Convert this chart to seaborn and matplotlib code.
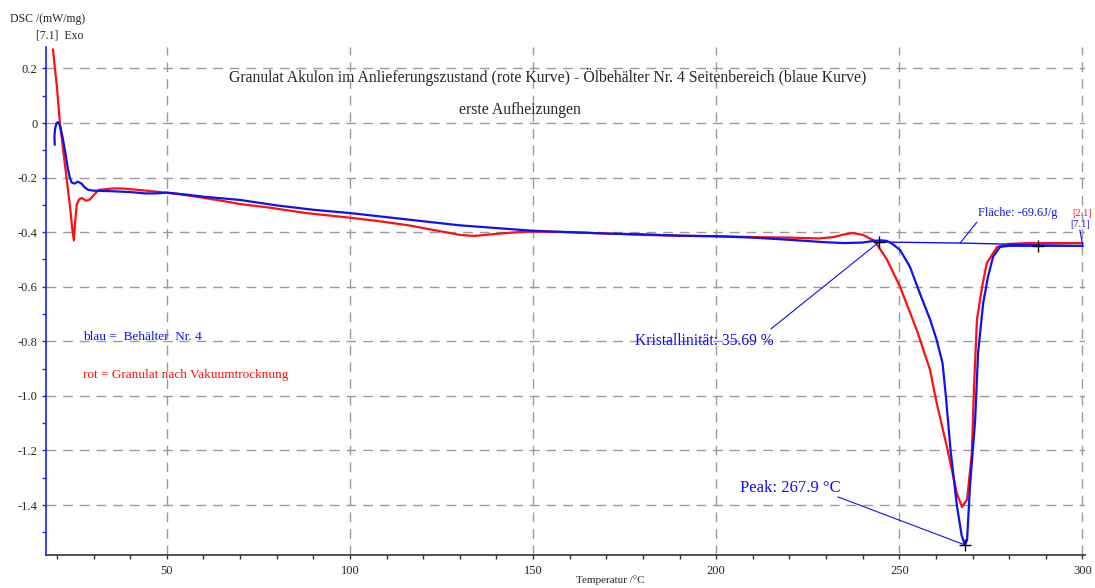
import matplotlib
matplotlib.use("Agg")
import matplotlib.pyplot as plt
from matplotlib.ticker import MultipleLocator, FixedLocator, FuncFormatter
import seaborn as sns
import pandas as pd

# DSC traces (temperature in °C, DSC signal in mW/mg)
red_temp = [18.9, 19.4, 20.0, 20.8, 21.7, 22.6, 23.5, 24.2, 24.6, 25.0, 25.4, 26.0,
            26.8, 28.0, 29.0, 30.3, 31.5, 35, 38, 42, 46, 50, 53, 58, 65, 70, 78, 88,
            95, 100, 108, 116, 122, 126, 130, 134, 137, 141, 146, 150, 160, 170, 180,
            190, 200, 210, 220, 228, 232, 235, 237.3, 240, 243.3, 246.6, 250.2, 254.8,
            258.4, 260.2, 263.0, 265.7, 267.1, 268.5, 269.8, 270.4, 271.2, 272.6,
            273.9, 276.7, 280, 285, 290, 295, 300.1]
red_dsc = [0.27, 0.205, 0.13, 0.0, -0.10, -0.20, -0.30, -0.39, -0.43, -0.355, -0.30,
           -0.28, -0.275, -0.285, -0.28, -0.26, -0.245, -0.24, -0.24, -0.245, -0.25,
           -0.256, -0.26, -0.27, -0.285, -0.297, -0.31, -0.33, -0.34, -0.347, -0.36,
           -0.375, -0.39, -0.40, -0.41, -0.414, -0.41, -0.405, -0.40, -0.398, -0.40,
           -0.405, -0.41, -0.413, -0.415, -0.418, -0.42, -0.423, -0.418, -0.408,
           -0.403, -0.41, -0.432, -0.50, -0.60, -0.76, -0.905, -1.026, -1.187, -1.356,
           -1.407, -1.38, -1.21, -0.967, -0.72, -0.60, -0.513, -0.454, -0.443, -0.44,
           -0.44, -0.44, -0.44]

blue_temp = [19.4, 19.3, 19.5, 19.9, 20.3, 20.8, 21.5, 22.3, 23.0, 23.5, 24.0, 24.8,
             25.7, 26.7, 27.5, 28.5, 30, 35, 40, 44, 47, 50, 55, 60, 70, 80, 90, 100,
             110, 120, 130, 140, 150, 160, 170, 180, 190, 200, 210, 220, 230, 235, 240,
             243, 245, 246.6, 248, 250.2, 252.9, 255.6, 258.4, 260.2, 261.8, 262.7,
             264.0, 265.7, 267.0, 267.9, 268.5, 269.3, 270.7, 271.5, 272.9, 274.2,
             275.6, 277.5, 280, 290, 300.1]
blue_dsc = [-0.08, -0.05, -0.02, 0.0, 0.003, -0.01, -0.05, -0.11, -0.17, -0.20, -0.218,
            -0.222, -0.215, -0.222, -0.235, -0.245, -0.248, -0.25, -0.253, -0.258,
            -0.258, -0.255, -0.262, -0.27, -0.282, -0.302, -0.318, -0.33, -0.345,
            -0.36, -0.375, -0.385, -0.395, -0.40, -0.405, -0.408, -0.413, -0.415,
            -0.42, -0.428, -0.437, -0.44, -0.438, -0.432, -0.43, -0.432, -0.442,
            -0.465, -0.527, -0.624, -0.72, -0.795, -0.88, -1.0, -1.2, -1.4, -1.51,
            -1.546, -1.528, -1.33, -1.09, -0.843, -0.66, -0.564, -0.49, -0.454, -0.45,
            -0.45, -0.45]

# integration baseline of the melting peak
base_temp = [244.5, 266.6, 300.1]
base_dsc = [-0.436, -0.44, -0.45]

# evaluation markers
mark_temp = [244.5, 267.9, 288.0]
mark_dsc = [-0.436, -1.546, -0.45]

x_major = [50, 100, 150, 200, 250, 300]
y_major = [0.2, 0.0, -0.2, -0.4, -0.6, -0.8, -1.0, -1.2, -1.4]

RED = "#ff1010"
BLUE = "#1010f0"
GRID = "#9a9a9a"

sns.set_style("white")
plt.rcParams["font.family"] = ["Liberation Serif", "DejaVu Serif"]
plt.rcParams["axes.unicode_minus"] = False

fig = plt.figure(figsize=(10.95, 5.88), dpi=100)
ax = fig.add_axes([46 / 1095, 1 - 555 / 588, (1085 - 46) / 1095, (555 - 47) / 588])

red_df = pd.DataFrame({"T": red_temp, "DSC": red_dsc})
blue_df = pd.DataFrame({"T": blue_temp, "DSC": blue_dsc})

ax.set_xlim(17.0, 300.7)
ax.set_ylim(-1.583, 0.2785)

# grid
ax.xaxis.set_major_locator(FixedLocator(x_major))
ax.yaxis.set_major_locator(FixedLocator(y_major))
ax.xaxis.set_minor_locator(MultipleLocator(10))
ax.yaxis.set_minor_locator(MultipleLocator(0.1))
ax.grid(True, which="major", color=GRID, linestyle=(0, (7, 5)), linewidth=1.0)
ax.set_axisbelow(True)

sns.lineplot(data=red_df, x="T", y="DSC", color=RED, linewidth=1.6,
             sort=False, estimator=None, ax=ax)
sns.lineplot(data=blue_df, x="T", y="DSC", color=BLUE, linewidth=1.6,
             sort=False, estimator=None, ax=ax)
sns.lineplot(x=base_temp, y=base_dsc, color=BLUE, linewidth=1.0,
             sort=False, estimator=None, ax=ax)
ax.plot(mark_temp, mark_dsc, linestyle="none", marker="+", color="black",
        markersize=8, markeredgewidth=1.0, zorder=5)

# spines and ticks
for side in ("top", "right"):
    ax.spines[side].set_visible(False)
ax.spines["left"].set_color("#2020ff")
ax.spines["left"].set_linewidth(1.2)
ax.spines["bottom"].set_color("#333333")
ax.spines["bottom"].set_linewidth(1.2)
ax.tick_params(axis="x", which="both", direction="out", length=3, width=1,
               color="#333333", labelsize=9, pad=4, bottom=True)
ax.tick_params(axis="y", which="both", direction="out", length=3, width=1,
               color="#2020ff", labelsize=9, pad=3, left=True)
ax.xaxis.set_major_formatter(FuncFormatter(lambda v, p: f"{v:g}"))
ax.yaxis.set_major_formatter(FuncFormatter(lambda v, p: "0" if abs(v) < 1e-9 else f"{v:.1f}"))
ax.set_xlabel("")
ax.set_ylabel("")

# titles
ax.text(154.0, 0.169, "Granulat Akulon im Anlieferungszustand (rote Kurve) - Ölbehälter Nr. 4 "
        "Seitenbereich (blaue Kurve)", ha="center", va="center", fontsize=11.3)
ax.text(146.4, 0.048, "erste Aufheizungen", ha="center", va="center", fontsize=11.3)

# legend notes
ax.text(27.1, -0.784, "blau =  Behälter  Nr. 4", color=BLUE, ha="left", va="center",
        fontsize=9.5)
ax.text(27.1, -0.923, "rot = Granulat nach Vakuumtrocknung", color=RED, ha="left",
        va="center", fontsize=9.5)

# evaluation annotations
ax.text(177.8, -0.799, "Kristallinität: 35.69 %", color=BLUE, ha="left", va="center",
        fontsize=11.2)
ax.plot([214.9, 244.5], [-0.755, -0.436], color=BLUE, linewidth=0.8)
ax.text(206.5, -1.337, "Peak: 267.9 °C", color=BLUE, ha="left", va="center", fontsize=12)
ax.plot([233.2, 267.9], [-1.37, -1.546], color=BLUE, linewidth=0.8)
ax.text(271.5, -0.33, "Fläche: -69.6J/g", color=BLUE, ha="left", va="center", fontsize=8.8)
ax.plot([271.2, 266.6], [-0.363, -0.44], color=BLUE, linewidth=0.8)
ax.text(297.1, -0.330, "[2.1]", color=RED, ha="left", va="center", fontsize=7.5, clip_on=False)
ax.text(296.6, -0.372, "[7.1]", color=BLUE, ha="left", va="center", fontsize=7.5, clip_on=False)
ax.plot([299.3, 300.1], [-0.392, -0.45], color=BLUE, linewidth=0.8, clip_on=False)

# axis captions
fig.text(10 / 1095, 1 - 19 / 588, "DSC /(mW/mg)", ha="left", va="center", fontsize=8.5)
fig.text(36 / 1095, 1 - 35 / 588, "[7.1]  Exo", ha="left", va="center", fontsize=8.5)
fig.text(610 / 1095, 1 - 580 / 588, "Temperatur /°C", ha="center", va="center", fontsize=8)

fig.savefig("out.png", dpi=100)
